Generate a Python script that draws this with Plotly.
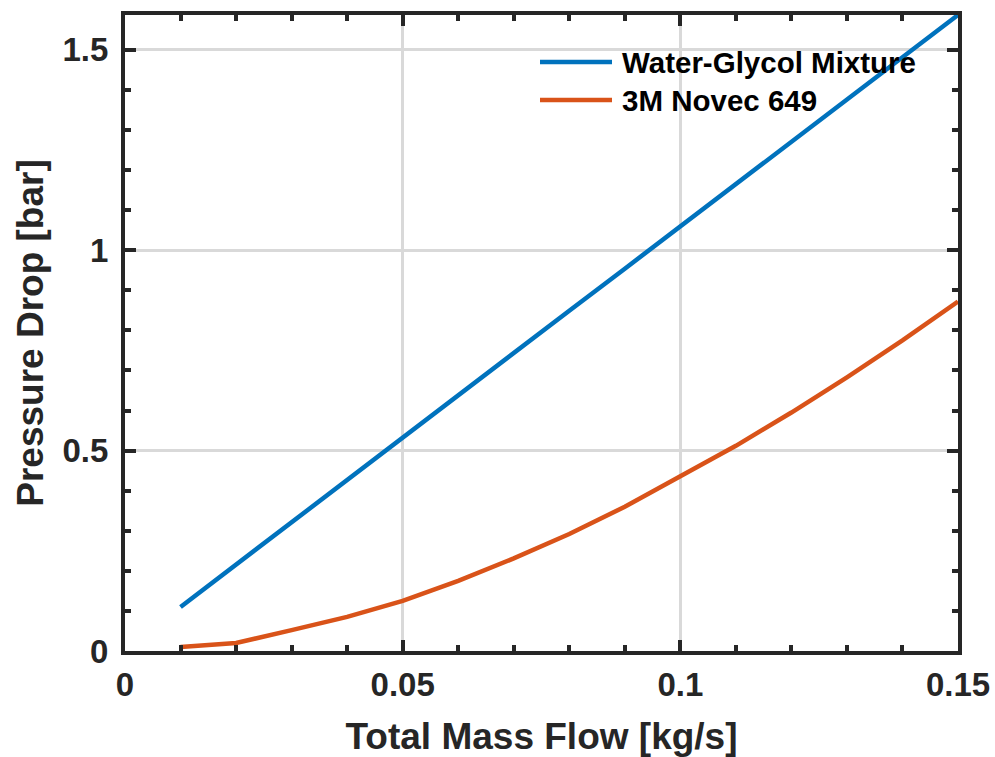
import plotly.graph_objects as go

mass_flow = [0.01, 0.02, 0.03, 0.04, 0.05, 0.06, 0.07, 0.08, 0.09, 0.10,
             0.11, 0.12, 0.13, 0.14, 0.15]
water_glycol = [0.110, 0.216, 0.321, 0.427, 0.532, 0.638, 0.743, 0.849,
                0.954, 1.060, 1.165, 1.271, 1.376, 1.482, 1.587]
novec_649 = [0.010, 0.020, 0.052, 0.085, 0.125, 0.175, 0.231, 0.292,
             0.360, 0.435, 0.512, 0.595, 0.683, 0.775, 0.872]

series_names = ["Water-Glycol Mixture", "3M Novec 649"]
series_colors = ["#0072BD", "#D95319"]

x_tickvals = [0, 0.05, 0.1, 0.15]
x_ticktext = ["0", "0.05", "0.1", "0.15"]
y_tickvals = [0, 0.5, 1, 1.5]
y_ticktext = ["0", "0.5", "1", "1.5"]

FONT = "Liberation Sans, Arial, sans-serif"
AX = "#262626"

fig = go.Figure()
for y, name, col in zip([water_glycol, novec_649], series_names, series_colors):
    fig.add_trace(go.Scatter(x=mass_flow, y=y, mode="lines", name=name,
                             line=dict(color=col, width=4.5), showlegend=False))

axis_common = dict(
    showline=True, linecolor=AX, linewidth=4, mirror="allticks",
    ticks="inside", ticklen=11, tickwidth=3.5, tickcolor=AX,
    showgrid=True, gridcolor="#d9d9d9", gridwidth=2.5,
    zeroline=False, automargin=False,
    tickfont=dict(family=FONT, size=33, color=AX, weight="bold"),
)

fig.update_xaxes(**axis_common, range=[0, 0.15], tickvals=x_tickvals, ticktext=x_ticktext,
                 minor=dict(ticks="inside", ticklen=6, tickwidth=3.5, tickcolor=AX,
                            dtick=0.01, showgrid=False),
                 ticklabelstandoff=1,
                 title=dict(text="Total Mass Flow [kg/s]", standoff=25,
                            font=dict(family=FONT, size=37, color=AX, weight="bold")))
fig.update_yaxes(**axis_common, range=[0, 1.587], tickvals=y_tickvals, ticktext=y_ticktext,
                 minor=dict(ticks="inside", ticklen=6, tickwidth=3.5, tickcolor=AX,
                            dtick=0.1, showgrid=False),
                 ticklabelstandoff=6,
                 title=dict(text="Pressure Drop [bar]", standoff=9,
                            font=dict(family=FONT, size=37, color=AX, weight="bold")))

# manual legend (MATLAB-style, no box)
W, H = 995, 757
L, R, T, B = 125, 37, 15, 106
pw, ph = W - L - R, H - T - B

def px_to_paper(xp, yp):
    return (xp - L) / pw, 1 - (yp - T) / ph

for i, (name, col) in enumerate(zip(series_names, series_colors)):
    yrow = 62 + 38 * i
    x0, y0 = px_to_paper(540, yrow)
    x1, _ = px_to_paper(612, yrow)
    fig.add_shape(type="line", xref="paper", yref="paper", x0=x0, x1=x1, y0=y0, y1=y0,
                  line=dict(color=col, width=4.5))
    xt, yt = px_to_paper(620, yrow)
    fig.add_annotation(xref="paper", yref="paper", x=xt, y=yt, text=name,
                       showarrow=False, xanchor="left", yanchor="middle",
                       font=dict(family=FONT, size=29.5, color="#000000", weight="bold"))

fig.update_layout(
    width=W, height=H,
    margin=dict(l=L, r=R, t=T, b=B),
    paper_bgcolor="white", plot_bgcolor="white",
    showlegend=False,
)

fig.write_html("out.html")
